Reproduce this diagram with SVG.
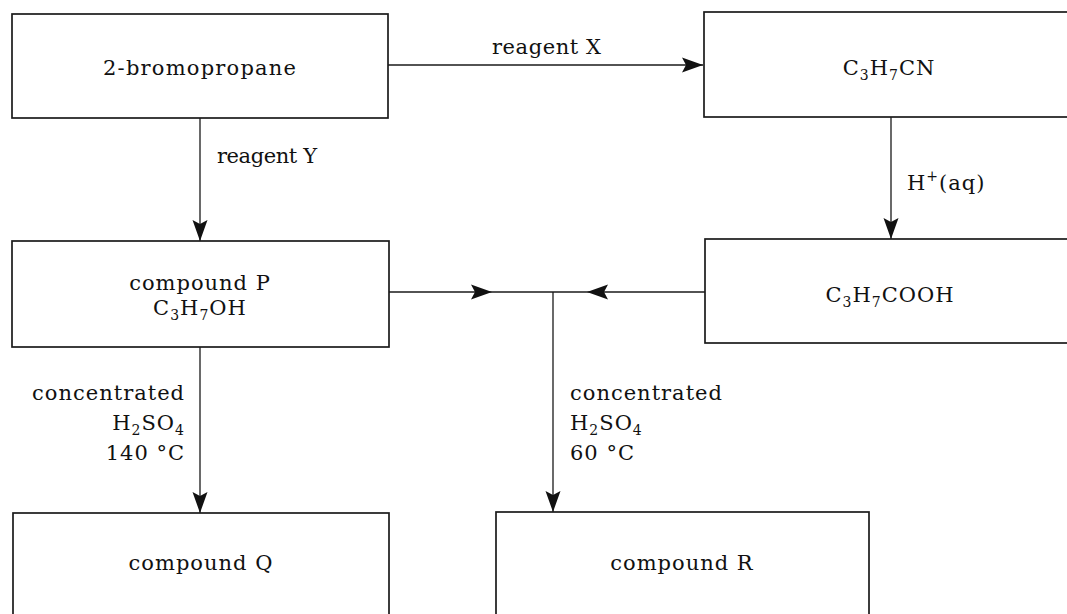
<svg xmlns="http://www.w3.org/2000/svg" width="1067" height="614" viewBox="0 0 1067 614">
<style>
.box{fill:#fff;stroke:#1a1a1a;stroke-width:1.7}
.ln{fill:none;stroke:#1a1a1a;stroke-width:1.3}
text{font-family:"DejaVu Serif","Liberation Serif",serif;font-size:21px;fill:#111;letter-spacing:1px}
.sub{font-size:14px}
</style>
<defs>
<marker id="ah" markerUnits="userSpaceOnUse" markerWidth="22" markerHeight="16" viewBox="0 0 22 16" refX="21" refY="8" orient="auto">
<path d="M0,0.5 L21,8 L0,15.5 L4,8 Z" fill="#111"/>
</marker>
</defs>
<rect width="1067" height="614" fill="#fff"/>
<g id="connectors">
<path class="ln" d="M388,65 L703,65" marker-end="url(#ah)"/>
<path class="ln" d="M200,118 L200,241" marker-end="url(#ah)"/>
<path class="ln" d="M891,117 L891,239" marker-end="url(#ah)"/>
<path class="ln" d="M389,292 L492,292" marker-end="url(#ah)"/>
<path class="ln" d="M492,292 L553,292"/>
<path class="ln" d="M705,292 L587,292" marker-end="url(#ah)"/>
<path class="ln" d="M587,292 L553,292"/>
<path class="ln" d="M553,292 L553,512" marker-end="url(#ah)"/>
<path class="ln" d="M200,347 L200,513" marker-end="url(#ah)"/>
<text x="492" y="54" textLength="110" lengthAdjust="spacing">reagent X</text>
<text x="217" y="163" textLength="101" lengthAdjust="spacing">reagent Y</text>
<text x="907" y="190">H<tspan class="sub" dy="-9">+</tspan><tspan dy="9">(aq)</tspan></text>
<text x="185" y="400" text-anchor="end">concentrated</text>
<text x="185" y="430" text-anchor="end">H<tspan class="sub" dy="5">2</tspan><tspan dy="-5">SO</tspan><tspan class="sub" dy="5">4</tspan></text>
<text x="185" y="460" text-anchor="end">140 °C</text>
<text x="570" y="400">concentrated</text>
<text x="570" y="430">H<tspan class="sub" dy="5">2</tspan><tspan dy="-5">SO</tspan><tspan class="sub" dy="5">4</tspan></text>
<text x="570" y="460">60 °C</text>
</g>
<g id="node-bromopropane">
<rect class="box" x="12" y="14" width="376" height="104"/>
<text x="103" y="75" textLength="194" lengthAdjust="spacing">2-bromopropane</text>
</g>
<g id="node-nitrile">
<rect class="box" x="704" y="12" width="380" height="105"/>
<text x="889" y="75" text-anchor="middle">C<tspan class="sub" dy="5">3</tspan><tspan dy="-5">H</tspan><tspan class="sub" dy="5">7</tspan><tspan dy="-5">CN</tspan></text>
</g>
<g id="node-P">
<rect class="box" x="12" y="241" width="377" height="106"/>
<text x="200" y="290" text-anchor="middle">compound P</text>
<text x="200" y="315" text-anchor="middle">C<tspan class="sub" dy="5">3</tspan><tspan dy="-5">H</tspan><tspan class="sub" dy="5">7</tspan><tspan dy="-5">OH</tspan></text>
</g>
<g id="node-acid">
<rect class="box" x="705" y="239" width="380" height="104"/>
<text x="890" y="302" text-anchor="middle">C<tspan class="sub" dy="5">3</tspan><tspan dy="-5">H</tspan><tspan class="sub" dy="5">7</tspan><tspan dy="-5">COOH</tspan></text>
</g>
<g id="node-Q">
<rect class="box" x="13" y="513" width="376" height="120"/>
<text x="201" y="570" text-anchor="middle">compound Q</text>
</g>
<g id="node-R">
<rect class="box" x="496" y="512" width="373" height="120"/>
<text x="682" y="570" text-anchor="middle">compound R</text>
</g>
</svg>
